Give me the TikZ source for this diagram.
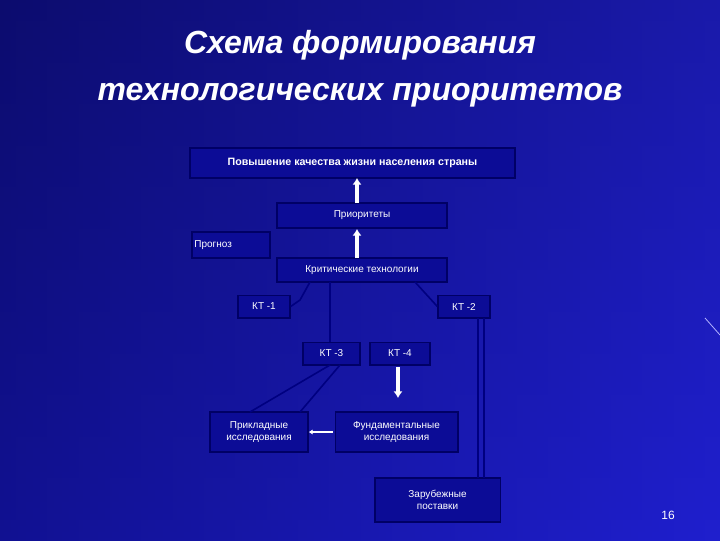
\documentclass[tikz,border=0pt]{standalone}
\usepackage{fontspec}
\setmainfont{Liberation Sans}
\usetikzlibrary{arrows.meta}
\begin{document}
\begin{tikzpicture}[x=0.75pt,y=-0.75pt,
  bx/.style={draw=black!60!blue,line width=1pt,fill={rgb,255:red,12;green,12;blue,150},text=white,font=\fontsize{7.5}{9}\selectfont,inner sep=0pt,align=center},
  dk/.style={draw=black!50!blue,line width=1.2pt},
  wa/.style={draw=white,line width=2.5pt,-{Latex[length=5pt,width=7pt]}}]
\useasboundingbox (0,0) rectangle (720,540);
\shade[top color={rgb,255:red,12;green,12;blue,110},bottom color={rgb,255:red,25;green,25;blue,200}] (0,0) rectangle (720,540);
\shade[left color={rgb,255:red,12;green,12;blue,110},right color={rgb,255:red,35;green,35;blue,210},opacity=0.6] (0,0) rectangle (720,540);
\node[text=white,font=\bfseries\itshape\fontsize{24}{35}\selectfont,align=center] (title) at (360,69) {Схема формирования\\технологических приоритетов};
\node[bx,minimum width=243.75pt,minimum height=22.5pt,font=\bfseries\fontsize{8}{9}\selectfont] (top) at (352.5,163) {Повышение качества жизни населения страны};
\node[bx,minimum width=127.5pt,minimum height=18.75pt] (pr) at (362,215.5) {Приоритеты};
\node[bx,minimum width=58.5pt,minimum height=19.5pt,text width=55pt,align=left] (pg) at (231,245) {Прогноз};
\node[bx,minimum width=127.5pt,minimum height=18pt] (kr) at (362,270) {Критические технологии};
\node[bx,minimum width=39pt,minimum height=17pt] (k1) at (264,306.5) {КТ -1};
\node[bx,minimum width=39pt,minimum height=17pt] (k2) at (464,306.5) {КТ -2};
\node[bx,minimum width=42.75pt,minimum height=17pt] (k3) at (331.5,353.5) {КТ -3};
\node[bx,minimum width=45pt,minimum height=17pt] (k4) at (400,353.5) {КТ -4};
\node[bx,minimum width=73.5pt,minimum height=30pt] (pk) at (259,432) {Прикладные\\исследования};
\node[bx,minimum width=92pt,minimum height=30pt] (fd) at (396.5,432) {Фундаментальные\\исследования};
\node[bx,minimum width=94pt,minimum height=33pt] (zr) at (437.5,500) {Зарубежные\\поставки};
\draw[dk] (310,282) -- (300,300) -- (k1.east);
\draw[dk] (330,282) -- (330,342);
\draw[dk] (415,282) -- (k2.west);
\draw[dk] (330,365) -- (250,412);
\draw[dk] (340,365) -- (300,412);
\draw[dk] (478,318) -- (478,478);
\draw[dk] (484,318) -- (484,478);
\draw[wa] (357,203) -- (357,178);
\draw[wa] (357,258) -- (357,229);
\draw[wa] (398,367) -- (398,398);
\draw[draw=white,line width=1.5pt,-{Latex[length=3pt,width=4pt]}] (fd.west) ++(-2,0) -- (pk.east);
\draw[white!70!blue,line width=0.6pt] (705,318) -- (720,335);
\node[text=white,font=\fontsize{9}{10}\selectfont] (pn) at (668,515) {16};
\end{tikzpicture}
\end{document}
